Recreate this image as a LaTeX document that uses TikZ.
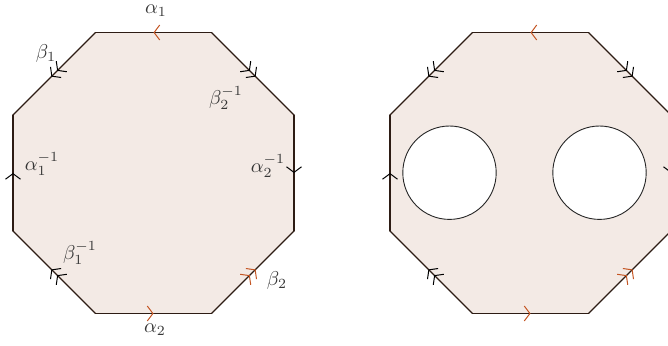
\documentclass[tikz,border=0pt]{standalone}
\usetikzlibrary{decorations.markings,arrows.meta}
\definecolor{fillc}{RGB}{243,234,229}
\definecolor{edgec}{RGB}{45,28,20}
\definecolor{orng}{RGB}{196,86,36}
\definecolor{txtc}{RGB}{55,55,55}
\tikzset{
  edge/.style={draw=edgec,line width=0.55pt,line cap=round},
  sarr/.style={postaction={decorate,decoration={markings,
     mark=at position 0.5 with {\arrow{Straight Barb[length=2.8pt,width=7.5pt,line width=0.5pt,color=#1]}}}}},
  darr/.style={postaction={decorate,decoration={markings,
     mark=at position 0.465 with {\arrow{Straight Barb[length=2.8pt,width=7.5pt,line width=0.5pt,color=#1]}},
     mark=at position 0.535 with {\arrow{Straight Barb[length=2.8pt,width=7.5pt,line width=0.5pt,color=#1]}}}}},
  lab/.style={text=txtc,inner sep=0pt}
}
\begin{document}
\begin{tikzpicture}[x=0.5pt,y=-0.5pt]
\useasboundingbox (0,0) rectangle (668,345);
\clip (0,0) rectangle (668,345);
\foreach \p/\s in {L/0,R/377}{
  \coordinate (\p1) at (95.5+\s,32.5);
  \coordinate (\p2) at (211.5+\s,32.5);
  \coordinate (\p3) at (294+\s,115);
  \coordinate (\p4) at (294+\s,231);
  \coordinate (\p5) at (211.5+\s,313.5);
  \coordinate (\p6) at (95.5+\s,313.5);
  \coordinate (\p7) at (13+\s,231);
  \coordinate (\p8) at (13+\s,115);
  \fill[fillc] (\p1)--(\p2)--(\p3)--(\p4)--(\p5)--(\p6)--(\p7)--(\p8)--cycle;
  \draw[edge,sarr=orng] (\p2) -- (\p1);
  \draw[edge,darr=black] (\p1) -- (\p8);
  \draw[edge,sarr=black] (\p7) -- (\p8);
  \draw[edge,darr=black] (\p6) -- (\p7);
  \draw[edge,sarr=orng] (\p6) -- (\p5);
  \draw[edge,darr=orng] (\p5) -- (\p4);
  \draw[edge,sarr=black] (\p3) -- (\p4);
  \draw[edge,darr=black] (\p2) -- (\p3);
}
% holes
\node[circle,draw=black!85,fill=white,line width=0.45pt,minimum size=46.7pt,inner sep=0pt] (h1) at (449.5,172.7) {};
\node[circle,draw=black!85,fill=white,line width=0.45pt,minimum size=46.7pt,inner sep=0pt] (h2) at (599.5,172.7) {};
% labels
\node[lab] (la1) at (156,10.5) {$\alpha_1$};
\node[lab] (lb1) at (46,53) {$\beta_1$};
\node[lab] (la1i) at (42,164) {$\alpha_1^{-1}$};
\node[lab] (lb1i) at (80,253) {$\beta_1^{-1}$};
\node[lab] (la2) at (155,330) {$\alpha_2$};
\node[lab] (lb2) at (277,280) {$\beta_2$};
\node[lab] (la2i) at (268,166) {$\alpha_2^{-1}$};
\node[lab] (lb2i) at (226,98) {$\beta_2^{-1}$};
\end{tikzpicture}
\end{document}
